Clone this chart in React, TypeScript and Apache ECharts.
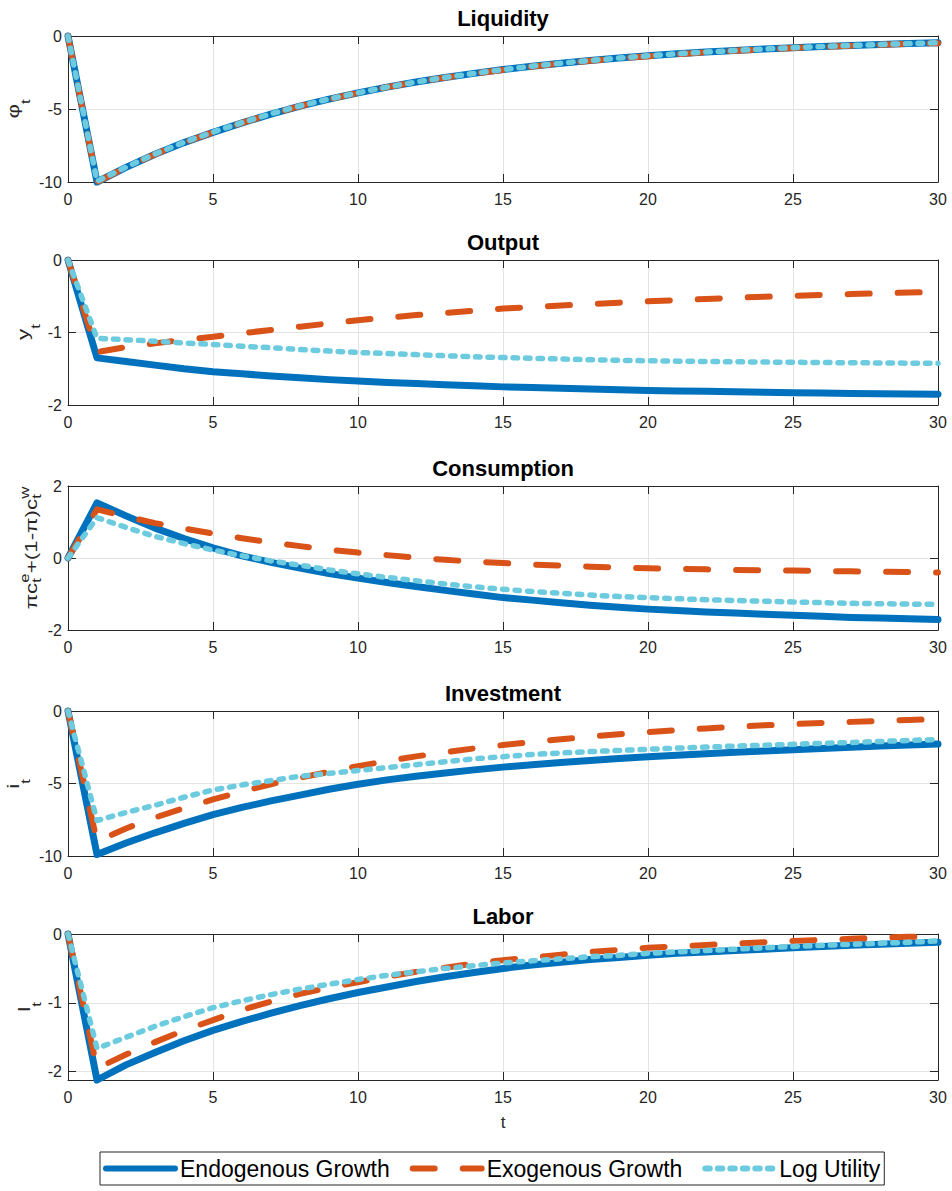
import React, { useEffect, useRef } from "react";
import * as echarts from "echarts";

// ---------------- data ----------------
const T = [0, 1, 2, 3, 4, 5, 6, 7, 8, 9, 10, 11, 12, 13, 14, 15, 16, 17, 18, 19, 20, 21, 22, 23, 24, 25, 26, 27, 28, 29, 30];

const titles = ["Liquidity", "Output", "Consumption", "Investment", "Labor"];
const seriesNames = ["Endogenous Growth", "Exogenous Growth", "Log Utility"];

const yMins = [-10, -2, -2, -10, -2.12];
const yMaxs = [0, 0, 2, 0, 0];
const yTickValues = [
  [-10, -5, 0],
  [-2, -1, 0],
  [-2, 0, 2],
  [-10, -5, 0],
  [-2, -1, 0],
];

const liquidityEndo = [0, -10, -9.0, -8.1, -7.3, -6.6, -5.95, -5.35, -4.8, -4.33, -3.9, -3.5, -3.15, -2.84, -2.56, -2.3, -2.07, -1.86, -1.68, -1.51, -1.36, -1.22, -1.1, -0.99, -0.89, -0.8, -0.72, -0.65, -0.58, -0.52, -0.46];
const liquidityExo = [0, -10, -9.0, -8.1, -7.3, -6.6, -5.95, -5.35, -4.8, -4.33, -3.9, -3.5, -3.16, -2.85, -2.57, -2.32, -2.09, -1.88, -1.7, -1.53, -1.38, -1.25, -1.12, -1.01, -0.91, -0.82, -0.74, -0.67, -0.6, -0.54, -0.49];
const liquidityLog = [0, -9.95, -8.98, -8.08, -7.28, -6.58, -5.93, -5.33, -4.79, -4.32, -3.89, -3.5, -3.15, -2.84, -2.56, -2.3, -2.07, -1.86, -1.68, -1.51, -1.36, -1.22, -1.1, -0.99, -0.89, -0.8, -0.72, -0.65, -0.58, -0.52, -0.46];

const outputEndo = [0, -1.35, -1.4, -1.45, -1.5, -1.54, -1.57, -1.6, -1.625, -1.65, -1.67, -1.69, -1.705, -1.72, -1.735, -1.75, -1.76, -1.77, -1.78, -1.79, -1.8, -1.806, -1.812, -1.818, -1.824, -1.83, -1.835, -1.84, -1.844, -1.848, -1.852];
const outputExo = [0, -1.27, -1.2, -1.15, -1.1, -1.06, -1.01, -0.965, -0.92, -0.875, -0.83, -0.795, -0.76, -0.73, -0.7, -0.67, -0.648, -0.627, -0.607, -0.588, -0.57, -0.553, -0.537, -0.522, -0.507, -0.494, -0.482, -0.47, -0.459, -0.449, -0.44];
const outputLog = [0, -1.08, -1.1, -1.12, -1.145, -1.165, -1.19, -1.21, -1.235, -1.255, -1.275, -1.29, -1.305, -1.32, -1.335, -1.345, -1.355, -1.365, -1.375, -1.383, -1.39, -1.395, -1.4, -1.404, -1.408, -1.411, -1.414, -1.417, -1.42, -1.423, -1.425];

const consEndo = [0, 1.53, 1.17, 0.83, 0.54, 0.28, 0.06, -0.12, -0.28, -0.43, -0.56, -0.68, -0.79, -0.9, -1.0, -1.1, -1.17, -1.24, -1.31, -1.37, -1.42, -1.46, -1.5, -1.53, -1.56, -1.59, -1.62, -1.65, -1.67, -1.69, -1.71];
const consExo = [0, 1.35, 1.15, 0.97, 0.82, 0.68, 0.55, 0.43, 0.33, 0.23, 0.15, 0.08, 0.01, -0.05, -0.1, -0.14, -0.18, -0.21, -0.24, -0.265, -0.285, -0.3, -0.315, -0.33, -0.34, -0.35, -0.36, -0.37, -0.38, -0.39, -0.4];
const consLog = [0, 1.12, 0.85, 0.6, 0.4, 0.22, 0.06, -0.08, -0.2, -0.33, -0.44, -0.54, -0.63, -0.72, -0.8, -0.87, -0.93, -0.98, -1.03, -1.07, -1.1, -1.13, -1.16, -1.18, -1.2, -1.22, -1.24, -1.26, -1.27, -1.28, -1.29];

const invEndo = [0, -9.9, -9.1, -8.4, -7.75, -7.15, -6.65, -6.2, -5.8, -5.4, -5.05, -4.75, -4.5, -4.27, -4.06, -3.87, -3.7, -3.55, -3.41, -3.28, -3.16, -3.05, -2.95, -2.85, -2.76, -2.67, -2.58, -2.5, -2.42, -2.35, -2.28];
const invExo = [0, -9.0, -8.1, -7.35, -6.7, -6.1, -5.55, -5.05, -4.6, -4.2, -3.8, -3.45, -3.13, -2.85, -2.58, -2.35, -2.14, -1.95, -1.77, -1.6, -1.45, -1.32, -1.2, -1.09, -0.99, -0.9, -0.82, -0.75, -0.68, -0.62, -0.56];
const invLog = [0, -7.55, -7.0, -6.5, -5.95, -5.45, -5.1, -4.8, -4.5, -4.3, -4.1, -3.9, -3.7, -3.5, -3.3, -3.15, -3.0, -2.9, -2.8, -2.72, -2.64, -2.56, -2.49, -2.42, -2.36, -2.3, -2.23, -2.17, -2.1, -2.03, -1.97];

const laborEndo = [0, -2.12, -1.9, -1.72, -1.55, -1.4, -1.27, -1.15, -1.04, -0.94, -0.85, -0.77, -0.69, -0.62, -0.56, -0.5, -0.45, -0.41, -0.37, -0.34, -0.31, -0.28, -0.26, -0.24, -0.22, -0.2, -0.18, -0.165, -0.15, -0.135, -0.12];
const laborExo = [0, -1.95, -1.75, -1.57, -1.4, -1.25, -1.1, -0.98, -0.87, -0.78, -0.7, -0.62, -0.55, -0.49, -0.43, -0.38, -0.34, -0.3, -0.26, -0.23, -0.2, -0.18, -0.16, -0.14, -0.12, -0.1, -0.085, -0.07, -0.055, -0.04, -0.03];
const laborLog = [0, -1.66, -1.5, -1.34, -1.2, -1.07, -0.97, -0.88, -0.8, -0.73, -0.66, -0.6, -0.55, -0.5, -0.46, -0.42, -0.39, -0.36, -0.33, -0.31, -0.28, -0.26, -0.24, -0.22, -0.2, -0.18, -0.165, -0.15, -0.135, -0.12, -0.1];

const panelData = [
  [liquidityEndo, liquidityExo, liquidityLog],
  [outputEndo, outputExo, outputLog],
  [consEndo, consExo, consLog],
  [invEndo, invExo, invLog],
  [laborEndo, laborExo, laborLog],
];

// ---------------- layout / style ----------------
const FONT = '"Liberation Sans", Arial, Helvetica, "DejaVu Sans", sans-serif';
const AX = "#262626";
const GRIDC = "#e3e3e3";
const COLORS = ["#0072BD", "#D95319", "#6DCBDF"];
const PLOT_LEFT = 68;
const PLOT_WIDTH = 870;
const GRIDS = [
  { top: 36, height: 146 },
  { top: 260, height: 145 },
  { top: 486, height: 144 },
  { top: 711, height: 145 },
  { top: 934, height: 146 },
];

type Part = { s: string; size: number; dy: number; adv?: boolean };

const yLabelParts: Part[][] = [
  [{ s: "φ", size: 16, dy: 0 }, { s: "t", size: 12, dy: 11 }],
  [{ s: "y", size: 16, dy: 0 }, { s: "t", size: 12, dy: 11 }],
  [
    { s: "π", size: 16, dy: 0 },
    { s: "c", size: 16, dy: 0 },
    { s: "e", size: 12, dy: -8, adv: false },
    { s: "t", size: 12, dy: 4 },
    { s: "+(1-π)c", size: 16, dy: 0 },
    { s: "w", size: 12, dy: -8, adv: false },
    { s: "t", size: 12, dy: 4 },
  ],
  [{ s: "i", size: 16, dy: 0 }, { s: "t", size: 12, dy: 11 }],
  [{ s: "l", size: 16, dy: 0 }, { s: "t", size: 12, dy: 11 }],
];
const yLabelPos = [
  { bx: 19, cy: 109 },
  { bx: 29, cy: 332 },
  { bx: 37, cy: 548 },
  { bx: 19, cy: 784 },
  { bx: 30, cy: 1007 },
];

function measure(text: string, size: number): number {
  const c = document.createElement("canvas");
  const ctx = c.getContext("2d");
  if (!ctx) return text.length * size * 0.55;
  ctx.font = `${size}px ${FONT}`;
  return ctx.measureText(text).width;
}

function buildYLabel(parts: Part[], bx: number, cy: number, stretch: number) {
  const placed: { p: Part; x: number }[] = [];
  let cursor = 0;
  let pending = 0;
  for (const p of parts) {
    const w = measure(p.s, p.size);
    placed.push({ p, x: cursor });
    if (p.adv === false) {
      pending = Math.max(pending, w);
    } else {
      cursor += Math.max(w, pending);
      pending = 0;
    }
  }
  const W = cursor;
  return {
    type: "group",
    x: bx,
    y: cy,
    rotation: Math.PI / 2,
    scaleX: stretch,
    silent: true,
    children: placed.map(({ p, x }) => ({
      type: "text",
      x: x - W / 2,
      y: p.dy - 0.35 * p.size,
      style: {
        text: p.s,
        fontSize: p.size,
        fontFamily: FONT,
        fill: AX,
        align: "left",
        verticalAlign: "middle",
      },
    })),
  };
}

export default function App() {
  const ref = useRef<HTMLDivElement>(null);

  useEffect(() => {
    if (!ref.current) return;
    const chart = echarts.init(ref.current, undefined, { renderer: "svg" });

    const grid = GRIDS.map((g) => ({
      left: PLOT_LEFT,
      width: PLOT_WIDTH,
      top: g.top,
      height: g.height,
      show: false,
    }));

    const xAxis: any[] = [];
    const yAxis: any[] = [];
    GRIDS.forEach((_, i) => {
      xAxis.push({
        gridIndex: i,
        type: "value",
        min: 0,
        max: 30,
        interval: 5,
        position: "bottom",
        axisLine: { show: true, onZero: false, lineStyle: { color: AX, width: 1 } },
        axisTick: { show: true, inside: true, length: 8, lineStyle: { color: AX } },
        axisLabel: { color: AX, fontSize: 16, fontFamily: FONT, margin: 9 },
        splitLine: { show: true, lineStyle: { color: GRIDC, width: 1 } },
        name: i === 4 ? "t" : "",
        nameLocation: "middle",
        nameGap: 34,
        nameTextStyle: { color: AX, fontSize: 17, fontFamily: FONT },
      });
    });
    GRIDS.forEach((_, i) => {
      xAxis.push({
        gridIndex: i,
        type: "value",
        min: 0,
        max: 30,
        interval: 5,
        position: "top",
        axisLine: { show: true, onZero: false, lineStyle: { color: AX, width: 1 } },
        axisTick: { show: true, inside: true, length: 8, lineStyle: { color: AX } },
        axisLabel: { show: false },
        splitLine: { show: false },
      });
    });
    GRIDS.forEach((_, i) => {
      yAxis.push({
        gridIndex: i,
        type: "value",
        min: yMins[i],
        max: yMaxs[i],
        position: "left",
        axisLine: { show: true, onZero: false, lineStyle: { color: AX, width: 1 } },
        axisTick: {
          show: true,
          inside: true,
          length: 8,
          lineStyle: { color: AX },
          customValues: yTickValues[i],
        },
        axisLabel: {
          color: AX,
          fontSize: 16,
          fontFamily: FONT,
          margin: 6,
          customValues: yTickValues[i],
        },
        splitLine: { show: true, lineStyle: { color: GRIDC, width: 1 } },
      });
    });
    GRIDS.forEach((_, i) => {
      yAxis.push({
        gridIndex: i,
        type: "value",
        min: yMins[i],
        max: yMaxs[i],
        position: "right",
        axisLine: { show: true, onZero: false, lineStyle: { color: AX, width: 1 } },
        axisTick: {
          show: true,
          inside: true,
          length: 8,
          lineStyle: { color: AX },
          customValues: yTickValues[i],
        },
        axisLabel: { show: false },
        splitLine: { show: false },
      });
    });

    const lineStyles = [
      { color: COLORS[0], width: 7, type: "solid", cap: "round", join: "round" },
      { color: COLORS[1], width: 6, type: [22, 28], cap: "round", join: "round" },
      { color: COLORS[2], width: 5.5, type: [4.5, 8], cap: "round", join: "round" },
    ];

    const series: any[] = [];
    panelData.forEach((vals, i) => {
      vals.forEach((arr, j) => {
        series.push({
          type: "line",
          name: seriesNames[j],
          xAxisIndex: i,
          yAxisIndex: i,
          data: T.map((t, k) => [t, arr[k]]),
          symbol: "none",
          clip: false,
          silent: true,
          z: 3 + j,
          itemStyle: { color: COLORS[j] },
          lineStyle: lineStyles[j],
        });
      });
    });

    const title = titles.map((tx, i) => ({
      text: tx,
      left: PLOT_LEFT + PLOT_WIDTH / 2,
      top: GRIDS[i].top - 29,
      textAlign: "center",
      padding: 0,
      textStyle: { fontSize: 22, fontWeight: "bold", color: "#000", fontFamily: FONT },
    }));

    const graphic = yLabelParts.map((parts, i) =>
      buildYLabel(parts, yLabelPos[i].bx, yLabelPos[i].cy, 1.4)
    );

    chart.setOption({
      animation: false,
      backgroundColor: "#ffffff",
      title,
      grid,
      xAxis,
      yAxis,
      series,
      graphic,
      legend: {
        data: seriesNames,
        left: 100,
        top: 1152,
        orient: "horizontal",
        itemWidth: 69,
        itemHeight: 14,
        itemGap: 20,
        padding: [5, 4, 5, 3],
        borderColor: AX,
        borderWidth: 1,
        borderRadius: 0,
        backgroundColor: "#fff",
        selectedMode: false,
        itemStyle: { opacity: 0 },
        lineStyle: { width: 6 },
        textStyle: { fontSize: 23, fontFamily: FONT, color: "#000" },
      },
    });

    return () => {
      chart.dispose();
    };
  }, []);

  return (
    <div
      ref={ref}
      style={{ position: "fixed", left: 0, top: 0, width: 952, height: 1191, background: "#fff" }}
    />
  );
}
